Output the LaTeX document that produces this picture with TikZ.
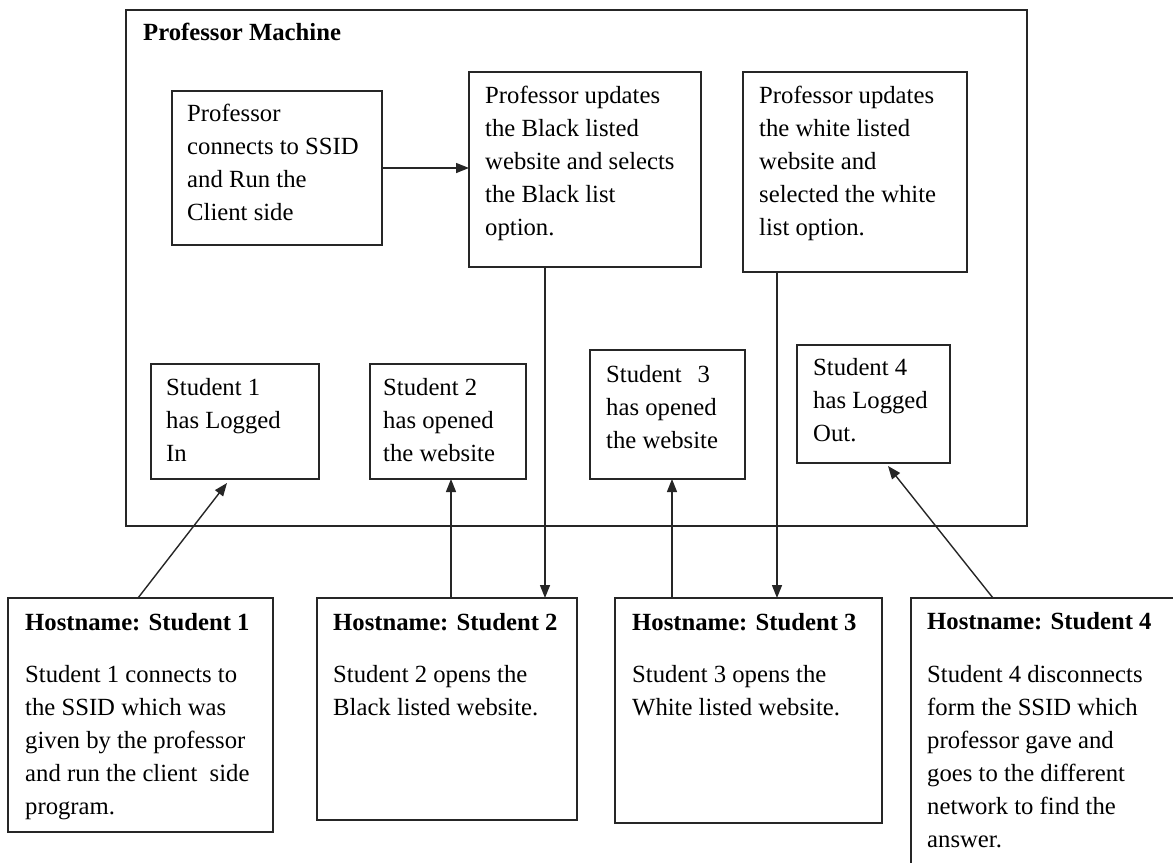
\documentclass[tikz,border=0pt]{standalone}
\usepackage{fontspec}
\setmainfont{Liberation Serif}
\usetikzlibrary{arrows.meta}
\newcommand\mytxt[1]{\parbox[t]{400pt}{\raggedright #1}}
\begin{document}
\begin{tikzpicture}[x=1pt,y=-1pt,
  bx/.style={draw=black!85, line width=1.5pt, rectangle, inner sep=0pt, outer sep=0pt, anchor=north west},
  tx/.style={anchor=base west, inner sep=0pt, font=\fontsize{24.7}{33}\selectfont},
  ttl/.style={tx, font=\fontsize{24.7}{33}\selectfont\bfseries},
  arr/.style={draw=black!85, line width=1.4pt, -{Triangle[length=13pt,width=10pt]}}]
\useasboundingbox (0,0) rectangle (1173,863);
\fill[white] (0,0) rectangle (1173,863);
% Professor machine frame
\node[bx, minimum width=901pt, minimum height=516pt] (PM) at (126,10) {};
\node[ttl] (PMt) at (143,40) {Professor Machine};
% professor boxes
\node[bx, minimum width=210pt, minimum height=154pt] (A) at (172,91) {};
\node[tx] (tA) at (187,121) {\mytxt{Professor\\connects to SSID\\and Run the\\Client side}};
\node[bx, minimum width=232pt, minimum height=195pt] (B) at (469,72) {};
\node[tx] (tB) at (485,103) {\mytxt{Professor updates\\the Black listed\\website and selects\\the Black list\\option.}};
\node[bx, minimum width=224pt, minimum height=200pt] (C) at (743,72) {};
\node[tx] (tC) at (759,103) {\mytxt{Professor updates\\the white listed\\website and\\selected the white\\list option.}};
% student status boxes
\node[bx, minimum width=168pt, minimum height=115pt] (S1) at (151,364) {};
\node[tx] (tS1) at (166,395) {\mytxt{Student 1\\has Logged\\In}};
\node[bx, minimum width=156pt, minimum height=115pt] (S2) at (370,364) {};
\node[tx] (tS2) at (383,395) {\mytxt{Student 2\\has opened\\the website}};
\node[bx, minimum width=155pt, minimum height=129pt] (S3) at (590,350) {};
\node[tx] (tS3) at (606,382) {\mytxt{Student\hspace{0.65em}3\\has opened\\the website}};
\node[bx, minimum width=153pt, minimum height=118pt] (S4) at (797,345) {};
\node[tx] (tS4) at (813,375) {\mytxt{Student 4\\has Logged\\Out.}};
% hostname boxes
\node[bx, minimum width=265pt, minimum height=234pt] (H1) at (8,598) {};
\node[ttl] (H1t) at (25,630) {Hostname: Student 1};
\node[tx] (H1b) at (25,682) {\mytxt{Student 1 connects to\\the SSID which was\\given by the professor\\and run the client\ \ side\\program.}};
\node[bx, minimum width=260pt, minimum height=222pt] (H2) at (317,598) {};
\node[ttl] (H2t) at (333,630) {Hostname: Student 2};
\node[tx] (H2b) at (333,682) {\mytxt{Student 2 opens the\\Black listed website.}};
\node[bx, minimum width=267pt, minimum height=225pt] (H3) at (615,598) {};
\node[ttl] (H3t) at (632,630) {Hostname: Student 3};
\node[tx] (H3b) at (632,682) {\mytxt{Student 3 opens the\\White listed website.}};
\node[anchor=north west, inner sep=0pt, outer sep=0pt, minimum width=262pt, minimum height=265pt] (H4) at (911,598) {};
\draw[black!85, line width=1.5pt] (H4.north east) -- (H4.north west) -- (H4.south west);
\node[ttl] (H4t) at (927,629) {Hostname: Student 4};
\node[tx] (H4b) at (927,682) {\mytxt{Student 4 disconnects\\form the SSID which\\professor gave and\\goes to the different\\network to find the\\answer.}};
% connectors
\draw[arr] (A.east) -- (A.east -| B.west);
\draw[arr] ([xshift=-40pt]B.south) coordinate (b1) -- (b1 |- H2.north);
\draw[arr] ([xshift=-78pt]C.south) coordinate (c1) -- (c1 |- H3.north);
\draw[arr] ([xshift=-2.5pt]H1.north) -- ([xshift=-8pt,yshift=-4pt]S1.south);
\draw[arr] ([xshift=4pt]H2.north) coordinate (h2) -- (h2 |- S2.south);
\draw[arr] ([xshift=-76.5pt]H3.north) coordinate (h3) -- (h3 |- S3.south);
\draw[arr] ([xshift=82pt]H4.north west) -- ([xshift=14.5pt,yshift=-3pt]S4.south);
\end{tikzpicture}
\end{document}
